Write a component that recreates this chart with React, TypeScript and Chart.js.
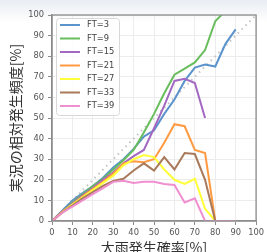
import { useEffect, useRef } from 'react';
import { Chart, registerables } from 'chart.js';

Chart.register(...registerables);

// ---- data ----
const probBins = [0, 5, 10, 15, 20, 25, 30, 35, 40, 45, 50, 55, 60, 65, 70, 75, 80, 85, 90];
const seriesLabels = ['FT=3', 'FT=9', 'FT=15', 'FT=21', 'FT=27', 'FT=33', 'FT=39'];
const ft3 = [0, 5, 10, 13.5, 17, 21, 26, 30, 35, 41, 44, 52, 59, 68, 74.5, 76, 75, 86, 93];
const ft9 = [0, 4.5, 9, 13, 17, 20.5, 25, 29.5, 34.5, 43, 52, 62, 71, 74, 77, 83, 97, 102, null];
const ft15 = [0, 4.5, 8.5, 12.5, 16, 20, 23.5, 28, 31.5, 34.5, 45, 56, 68, 69, 67, 50, null, null, null];
const ft21 = [0, 4.5, 8, 12, 15.5, 19, 23, 28, 29, 28.5, 30, 38, 47, 46, 34.5, 33, 0, 0, 0];
const ft27 = [0, 4, 8, 11.5, 15, 18.5, 22, 27, 30, 32, 31, 25, 20, 18, 20.5, 6, 0, 0, 0];
const ft33 = [0, 4, 7.5, 11, 14, 17, 19.5, 20.5, 24.5, 28, 24.5, 31, 25, 33, 32.5, 20, 0, 0, 0];
const ft39 = [0, 4, 7, 10, 13, 16, 19, 19.5, 18.5, 19, 19, 18, 17.5, 9, 11, 0, 0, 0, 0];
const seriesValues = [ft3, ft9, ft15, ft21, ft27, ft33, ft39];
const seriesColors = ['#5b93cc', '#68bd5c', '#a268c2', '#ff9a42', '#ffff3a', '#a8795a', '#f08fd0'];
const diagonalX = [0, 100];
const diagonalY = [0, 100];
const tickValues = [0, 10, 20, 30, 40, 50, 60, 70, 80, 90, 100];
const xTitle = '大雨発生確率[%]';
const yTitle = '実況の相対発生頻度[%]';

const frameAndLegend = {
  id: 'frameAndLegend',
  afterDatasetsDraw(chart: any) {
    const { ctx, chartArea } = chart;
    ctx.save();
    ctx.strokeStyle = '#8c8c8c';
    ctx.lineWidth = 1.3;
    ctx.strokeRect(chartArea.left, chartArea.top, chartArea.right - chartArea.left, chartArea.bottom - chartArea.top);

    const x0 = chartArea.left + 4;
    const y0 = chartArea.top + 3;
    const w = 63;
    const h = 97;
    ctx.beginPath();
    if (ctx.roundRect) ctx.roundRect(x0 + 0.5, y0 + 0.5, w, h, 3);
    else ctx.rect(x0 + 0.5, y0 + 0.5, w, h);
    ctx.fillStyle = 'rgba(255,255,255,0.85)';
    ctx.fill();
    ctx.strokeStyle = '#d8d8d8';
    ctx.lineWidth = 1;
    ctx.stroke();

    ctx.font = '8.3px "DejaVu Sans", sans-serif';
    ctx.textBaseline = 'middle';
    ctx.textAlign = 'left';
    seriesLabels.forEach((label, i) => {
      const y = y0 + 7 + i * 13.5;
      ctx.beginPath();
      ctx.moveTo(x0 + 4, y);
      ctx.lineTo(x0 + 24, y);
      ctx.strokeStyle = seriesColors[i];
      ctx.lineWidth = 2;
      ctx.stroke();
      ctx.fillStyle = '#444';
      ctx.fillText(label, x0 + 31, y);
    });
    ctx.restore();
  },
};

export default function App() {
  const ref = useRef<HTMLCanvasElement | null>(null);

  useEffect(() => {
    document.body.style.margin = '0';
    const canvas = ref.current;
    if (!canvas) return;

    const lineSets = seriesValues.map((vals, i) => ({
      label: seriesLabels[i],
      data: probBins
        .map((x, j) => ({ x, y: vals[j] }))
        .filter((p) => p.y !== null && p.y !== undefined),
      borderColor: seriesColors[i],
      backgroundColor: seriesColors[i],
      borderWidth: 2,
      pointRadius: 0,
      tension: 0,
      fill: false,
      order: seriesLabels.length - i,
    }));

    const diag = {
      label: 'diag',
      data: diagonalX.map((x, j) => ({ x, y: diagonalY[j] })),
      borderColor: '#c4c4c4',
      borderWidth: 2,
      borderDash: [1.5, 4],
      pointRadius: 0,
      fill: false,
      order: 100,
    };

    const tickFont = { family: '"DejaVu Sans", sans-serif', size: 8.3 };
    const commonGrid = {
      color: '#ececec',
      lineWidth: 1,
      drawTicks: true,
      tickLength: 4,
      tickColor: '#8c8c8c',
    };

    const chart = new Chart(canvas, {
      type: 'line',
      data: { datasets: [diag, ...lineSets] as any },
      plugins: [frameAndLegend],
      options: {
        animation: false,
        responsive: false,
        parsing: true,
        layout: { padding: { top: 15, right: 8, bottom: 0, left: 0 } },
        plugins: { legend: { display: false }, tooltip: { enabled: false } },
        scales: {
          x: {
            type: 'linear',
            min: 0,
            max: 100,
            afterBuildTicks: (s: any) => {
              s.ticks = tickValues.map((v) => ({ value: v }));
            },
            afterFit: (s: any) => {
              s.height = 31;
            },
            ticks: { font: tickFont, color: '#555', padding: 3, maxRotation: 0, autoSkip: false },
            grid: commonGrid,
            border: { display: true, color: '#8c8c8c', width: 1.3 },
            title: {
              display: true,
              text: xTitle,
              color: '#333',
              font: { family: '"Noto Sans CJK JP", sans-serif', size: 14 },
              padding: { top: 0, bottom: -4 },
            },
          },
          y: {
            type: 'linear',
            min: 0,
            max: 100,
            afterBuildTicks: (s: any) => {
              s.ticks = tickValues.map((v) => ({ value: v }));
            },
            afterFit: (s: any) => {
              s.width = 52;
            },
            ticks: { font: tickFont, color: '#555', padding: 4, autoSkip: false },
            grid: commonGrid,
            border: { display: true, color: '#8c8c8c', width: 1.3 },
            title: {
              display: true,
              text: yTitle,
              color: '#333',
              font: { family: '"Noto Sans CJK JP", sans-serif', size: 14 },
              padding: { top: 7, bottom: 0 },
            },
          },
        },
      } as any,
    });
    return () => chart.destroy();
  }, []);

  return (
    <div
      style={{
        position: 'absolute',
        left: 0,
        top: 0,
        width: 267,
        height: 252,
        background: 'linear-gradient(#e9edf3 0px, #f3f5f8 10px, #ffffff 22px)',
      }}
    >
      <canvas ref={ref} width={267} height={252} style={{ width: 267, height: 252, display: 'block' }} />
    </div>
  );
}
